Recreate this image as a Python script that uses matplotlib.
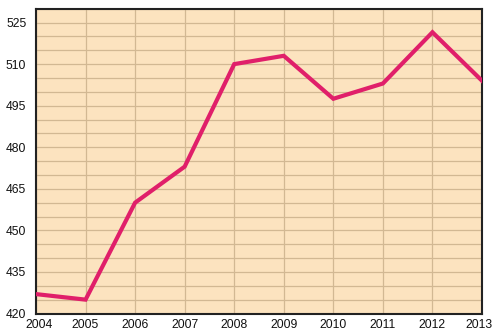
import matplotlib
matplotlib.use("Agg")
import matplotlib.pyplot as plt
from matplotlib.ticker import MultipleLocator
from matplotlib.transforms import ScaledTranslation

years = [2004, 2005, 2006, 2007, 2008, 2009, 2010, 2011, 2012, 2013]
values = [427, 425, 460, 473, 510, 513, 497.5, 503, 521.5, 504]
y_ticks = [420, 435, 450, 465, 480, 495, 510, 525]

plt.rcParams['font.family'] = ['Liberation Sans', 'DejaVu Sans']

fig = plt.figure(figsize=(4.93, 3.31), dpi=100)
ax = fig.add_axes([36 / 493, 1 - 313.5 / 331, (482 - 36) / 493, (313.5 - 8.7) / 331])

ax.set_facecolor('#FCE3BF')
ax.plot(years, values, color='#E01F6A', linewidth=3.0, solid_joinstyle='miter', zorder=3)

ax.set_xlim(2004, 2013)
ax.set_ylim(420, 530)
ax.set_xticks(years)
ax.set_yticks(y_ticks)
ax.yaxis.set_minor_locator(MultipleLocator(5))

grid_color = '#D2B893'
ax.grid(True, which='both', axis='y', color=grid_color, linewidth=0.9)
ax.grid(True, which='major', axis='x', color=grid_color, linewidth=0.9)
ax.set_axisbelow(True)

ax.tick_params(axis='both', which='both', length=0, labelsize=8.7, colors='#111111')
ax.tick_params(axis='y', pad=7)
ax.tick_params(axis='x', pad=4)

# keep the end labels inside the canvas
fig.canvas.draw()
xlabels = ax.get_xticklabels()
xlabels[0].set_transform(xlabels[0].get_transform() + ScaledTranslation(3 / 100, 0, fig.dpi_scale_trans))
xlabels[-1].set_transform(xlabels[-1].get_transform() + ScaledTranslation(-3 / 100, 0, fig.dpi_scale_trans))

for side in ['left', 'bottom', 'right', 'top']:
    ax.spines[side].set_color('#222222')
    ax.spines[side].set_linewidth(1.5)

fig.savefig('out.png', dpi=100)
